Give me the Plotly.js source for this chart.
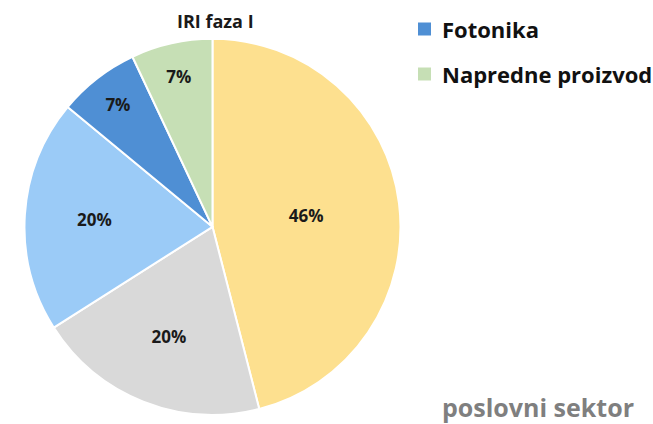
<!DOCTYPE html>
<html>
<head>
<meta charset="utf-8">
<script src="https://cdn.plot.ly/plotly-3.0.1.min.js"></script>
<style>
  html, body { margin: 0; padding: 0; background: #fff; }
  #chart { width: 653px; height: 424px; }
</style>
</head>
<body>
<div id="chart"></div>
<script>
// slices, clockwise from 12 o'clock
var labels = ['Ostalo 1', 'Ostalo 2', 'Ostalo 3', 'Fotonika', 'Napredne proizvodne tehnologije'];
var values = [46, 20, 20, 7, 7];
var colors = ['#FDE08F', '#D9D9D9', '#9BCBF7', '#4F8FD4', '#C6DFB5'];

// only these two legend rows are visible in the picture
var legendNames = ['Fotonika', 'Napredne proizvodne tehnologije'];
var legendColors = ['#4F8FD4', '#C6DFB5'];

var W = 653, H = 424;
function px(x) { return x / W; }
function py(y) { return 1 - y / H; }

var pie = {
  type: 'pie',
  labels: labels,
  values: values,
  sort: false,
  direction: 'clockwise',
  rotation: 0,
  marker: {colors: colors, line: {color: '#ffffff', width: 2}},
  texttemplate: '<b>%{percent:.0%}</b>',
  textposition: 'inside',
  insidetextorientation: 'horizontal',
  textfont: {family: 'Open Sans, sans-serif', size: 17, color: '#1a1a1a'},
  domain: {x: [0.0375, 0.6133], y: [0.02, 0.91]},
  showlegend: false
};

var annotations = [
  {text: '<b>IRI faza I</b>', x: px(215), y: py(21), xanchor: 'center', yanchor: 'middle',
   showarrow: false, font: {family: 'Open Sans, sans-serif', size: 18, color: '#1a1a1a'}},
  {text: '<b>poslovni sektor</b>', x: px(440), y: py(407), xanchor: 'left', yanchor: 'middle',
   showarrow: false, font: {family: 'Open Sans, sans-serif', size: 25, color: '#7f7f7f'}}
];
var shapes = [];
for (var i = 0; i < legendNames.length; i++) {
  var yc = 29 + i * 45;
  shapes.push({type: 'rect', xref: 'paper', yref: 'paper',
    x0: px(418), x1: px(431), y0: py(yc - 6.5), y1: py(yc + 6.5),
    fillcolor: legendColors[i], line: {width: 0}});
  annotations.push({text: '<b>' + legendNames[i] + '</b>', x: px(440), y: py(yc),
    xanchor: 'left', yanchor: 'middle', showarrow: false,
    font: {family: 'Open Sans, sans-serif', size: 22, color: '#111111'}});
}
annotations.forEach(function (a) { a.xref = 'paper'; a.yref = 'paper'; });

var layout = {
  width: W, height: H,
  margin: {l: 0, r: 0, t: 0, b: 0},
  paper_bgcolor: '#ffffff',
  annotations: annotations,
  shapes: shapes
};

Plotly.newPlot('chart', [pie], layout, {displayModeBar: false, staticPlot: true});
</script>
</body>
</html>
